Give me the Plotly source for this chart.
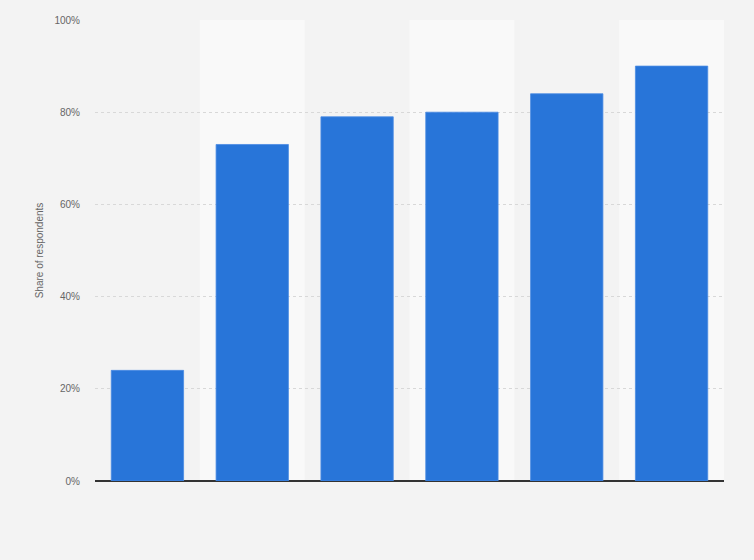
import plotly.graph_objects as go

# six answer groups, no category labels shown in the source
categories = [0, 1, 2, 3, 4, 5]
share = [24, 73, 79, 80, 84, 90]
tick_vals = [0, 20, 40, 60, 80, 100]
tick_text = ["0%", "20%", "40%", "60%", "80%", "100%"]

fig = go.Figure()

fig.add_trace(go.Bar(
    x=categories, y=share,
    marker=dict(color="#2875d9", line=dict(color="#4a8be3", width=0.8)),
    hoverinfo="y",
))

# lighter background bands behind every second column
for c in categories[1::2]:
    fig.add_shape(type="rect", xref="x", yref="paper",
                  x0=c - 0.5, x1=c + 0.5, y0=0, y1=1,
                  fillcolor="#f9f9f9", line_width=0, layer="below")

fig.update_layout(
    width=754, height=560,
    margin=dict(l=95, r=30, t=20, b=79),
    paper_bgcolor="#f3f3f3", plot_bgcolor="#f3f3f3",
    bargap=0.31, showlegend=False,
    font=dict(family="Liberation Sans, Arial, sans-serif", size=10, color="#666666"),
)
fig.update_xaxes(range=[-0.5, 5.5], showticklabels=False, showgrid=False,
                 zeroline=False, showline=False, fixedrange=True)
fig.update_yaxes(range=[0, 100], tickvals=tick_vals, ticktext=tick_text,
                 showgrid=True, gridcolor="#d8d8d8", griddash="dot", gridwidth=1,
                 zeroline=True, zerolinecolor="#333333", zerolinewidth=1.5,
                 ticks="", ticklabelstandoff=14,
                 title=dict(text="Share of respondents", standoff=8,
                            font=dict(size=10, color="#666666")),
                 fixedrange=True)

# drop the default page margin so the chart sits flush in the window
fig.write_html("out.html", config={"displayModeBar": False}, post_script=(
    "document.body.style.margin='0';"
    "document.body.style.background='#f3f3f3';"
))
